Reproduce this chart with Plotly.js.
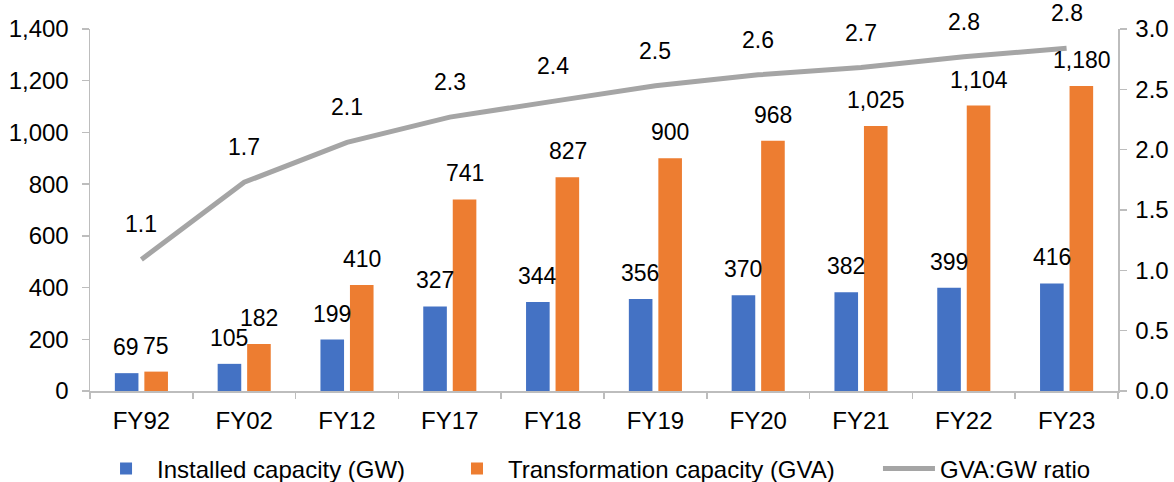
<!DOCTYPE html>
<html>
<head>
<meta charset="utf-8">
<script src="https://cdn.plot.ly/plotly-3.0.1.min.js"></script>
<style>
  html, body { margin: 0; padding: 0; background: #fff; }
  #chart { width: 1174px; height: 482px; }
</style>
</head>
<body>
<div id="chart"></div>
<script>
const categories = ['FY92','FY02','FY12','FY17','FY18','FY19','FY20','FY21','FY22','FY23'];
const installed = [69,105,199,327,344,356,370,382,399,416];
const transformation = [75,182,410,741,827,900,968,1025,1104,1180];
const ratio = [1.09,1.73,2.06,2.27,2.40,2.53,2.62,2.68,2.77,2.84];

const FONT = 'Liberation Sans, Arial, sans-serif';
const BLUE = '#4472C4', ORANGE = '#ED7D31', GRAY = '#A5A5A5', AXIS = '#BDBDBD';

const traces = [
  { type: 'bar', name: 'Installed capacity (GW)', x: categories, y: installed,
    marker: { color: BLUE }, hoverinfo: 'none', legend: 'legend' },
  { type: 'bar', name: 'Transformation capacity (GVA)', x: categories, y: transformation,
    marker: { color: ORANGE }, hoverinfo: 'none', legend: 'legend2' },
  { type: 'scatter', mode: 'lines', name: 'GVA:GW ratio', x: categories, y: ratio, yaxis: 'y2',
    line: { color: GRAY, width: 5 }, cliponaxis: false, hoverinfo: 'none', legend: 'legend3' }
];

const fmt = v => v.toLocaleString('en-US');
const LBL = { family: FONT, size: 23, color: '#000' };
const annotations = [];
categories.forEach((c, i) => {
  annotations.push({ x: c, y: installed[i], xref: 'x', yref: 'y', text: fmt(installed[i]),
    showarrow: false, yanchor: 'bottom', xshift: -15, yshift: 11, font: LBL });
  annotations.push({ x: c, y: transformation[i], xref: 'x', yref: 'y', text: fmt(transformation[i]),
    showarrow: false, yanchor: 'bottom', xshift: 15, yshift: 11, font: LBL });
  annotations.push({ x: c, y: ratio[i], xref: 'x', yref: 'y2', text: ratio[i].toFixed(1),
    showarrow: false, yanchor: 'bottom', yshift: 20, font: LBL });
});

const legendBase = { orientation: 'h', yref: 'container', y: 0.027, yanchor: 'middle', xanchor: 'left',
  font: { family: FONT, size: 24, color: '#000' }, itemwidth: 52, bgcolor: 'rgba(0,0,0,0)' };

const layout = {
  width: 1174, height: 482,
  margin: { l: 90, r: 56, t: 29, b: 91 },
  paper_bgcolor: '#fff', plot_bgcolor: '#fff',
  font: { family: FONT, size: 24, color: '#000' },
  barmode: 'group', bargap: 0.426, bargroupgap: 0.2,
  showlegend: true,
  legend: Object.assign({}, legendBase, { x: 0.0049 }),
  legend2: Object.assign({}, legendBase, { x: 0.3463 }),
  legend3: Object.assign({}, legendBase, { x: 0.7665 }),
  xaxis: { type: 'category', showline: true, linecolor: AXIS, linewidth: 1.5,
    ticks: 'outside', tickson: 'boundaries', ticklen: 6, tickcolor: AXIS, tickwidth: 1.5,
    showgrid: false, zeroline: false, ticklabelstandoff: 8 },
  yaxis: { range: [0, 1400], dtick: 200, tickformat: ',', showline: true, linecolor: AXIS, linewidth: 1.5,
    ticks: 'outside', ticklen: 7, tickcolor: AXIS, tickwidth: 1.5, showgrid: false, zeroline: false,
    ticklabelstandoff: 8 },
  yaxis2: { range: [0, 3], dtick: 0.5, tickformat: '.1f', overlaying: 'y', side: 'right',
    showline: true, linecolor: AXIS, linewidth: 1.5, ticks: 'outside', ticklen: 7, tickcolor: AXIS,
    tickwidth: 1.5, showgrid: false, zeroline: false, ticklabelstandoff: 4 },
  annotations: annotations
};

Plotly.newPlot('chart', traces, layout, { staticPlot: true, displayModeBar: false });
</script>
</body>
</html>
